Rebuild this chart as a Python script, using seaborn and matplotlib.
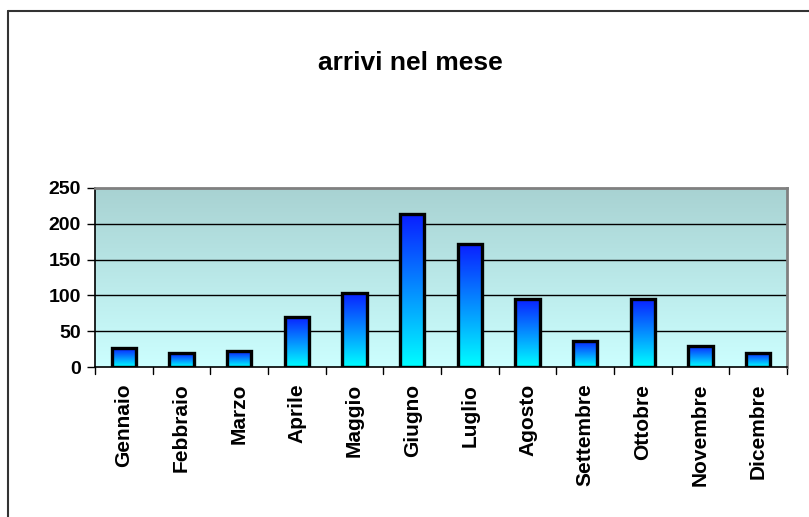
import numpy as np
import pandas as pd
import matplotlib
matplotlib.use("Agg")
import matplotlib.pyplot as plt
from matplotlib.colors import LinearSegmentedColormap
from matplotlib.lines import Line2D
import seaborn as sns

# data
mesi = ['Gennaio', 'Febbraio', 'Marzo', 'Aprile', 'Maggio', 'Giugno',
        'Luglio', 'Agosto', 'Settembre', 'Ottobre', 'Novembre', 'Dicembre']
arrivi = [26, 19, 22, 70, 104, 213, 172, 95, 37, 95, 30, 20]
y_ticks = [0, 50, 100, 150, 200, 250]

df = pd.DataFrame({'mese': mesi, 'arrivi': arrivi})

sns.set_style('white')
plt.rcParams['font.family'] = ['Liberation Sans', 'DejaVu Sans']
plt.rcParams['text.color'] = 'black'
plt.rcParams['xtick.color'] = 'black'
plt.rcParams['ytick.color'] = 'black'

W, H = 809, 517
fig = plt.figure(figsize=(W / 100, H / 100), dpi=100)
ax = fig.add_axes([95 / W, (H - 367) / H, (787 - 95) / W, (367 - 188) / H])

sns.barplot(data=df, x='mese', y='arrivi', ax=ax, width=0.42,
            facecolor='none', edgecolor='black', linewidth=2.4, zorder=3)

# background gradient of the plot area
bg = LinearSegmentedColormap.from_list('bg', ['#ccffff', '#a8d2d2'])
grad = np.linspace(0, 1, 256).reshape(-1, 1)
ax.imshow(grad, cmap=bg, aspect='auto', origin='lower',
          extent=[-0.5, len(mesi) - 0.5, 0, 250], zorder=0)

# gradient fill of each bar
bar_cmap = LinearSegmentedColormap.from_list('bar', ['#00ffff', '#0a1eff'])
for p in ax.patches:
    x0, w, h = p.get_x(), p.get_width(), p.get_height()
    ax.imshow(grad, cmap=bar_cmap, aspect='auto', origin='lower',
              extent=[x0, x0 + w, 0, h], zorder=2)

ax.set_ylim(0, 250)
ax.set_xlim(-0.5, len(mesi) - 0.5)

# gridlines
for t in y_ticks[1:-1]:
    ax.axhline(t, color='black', lw=1, zorder=1)

ax.set_yticks(y_ticks)
ax.set_yticklabels([str(t) for t in y_ticks], fontsize=14, fontweight='bold')
ax.set_xticks(range(len(mesi)))
ax.set_xticklabels(mesi, rotation=90, fontsize=15, fontweight='bold')
ax.tick_params(axis='x', length=0, pad=12)
ax.tick_params(axis='y', length=6, width=1, direction='out', left=True, pad=4)
ax.set_xlabel('')
ax.set_ylabel('')

# category separator ticks below the x axis
for k in range(len(mesi) + 1):
    ax.plot([k - 0.5, k - 0.5], [0, -0.04], transform=ax.get_xaxis_transform(),
            color='black', lw=1, clip_on=False)

for side in ['top', 'right']:
    ax.spines[side].set_color('#808080')
    ax.spines[side].set_linewidth(2)
for side in ['left', 'bottom']:
    ax.spines[side].set_color('black')
    ax.spines[side].set_linewidth(1.2)

fig.text(410 / W, 1 - 63 / H, 'arrivi nel mese', ha='center', va='center',
         fontsize=19, fontweight='bold')

# outer frame (top and left visible)
fig.add_artist(Line2D([8 / W, 8 / W], [0, 1 - 11 / H], transform=fig.transFigure,
                      color='#333333', lw=1.5))
fig.add_artist(Line2D([8 / W, 1], [1 - 11 / H, 1 - 11 / H], transform=fig.transFigure,
                      color='#333333', lw=1.5))

fig.savefig('out.png', dpi=100)
